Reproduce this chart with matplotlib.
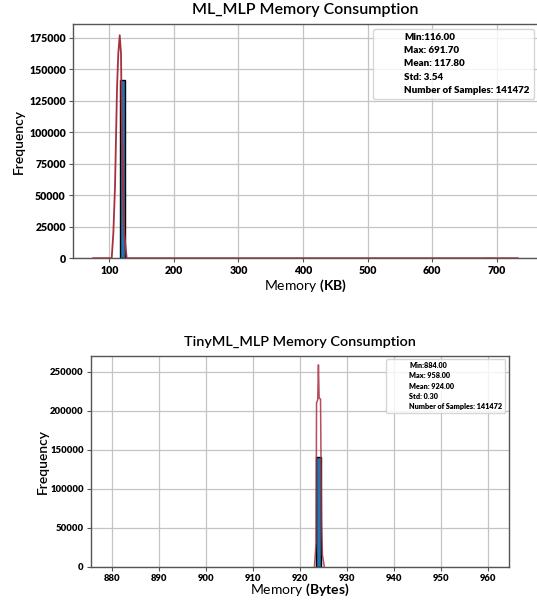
import matplotlib
matplotlib.use('Agg')
import matplotlib.pyplot as plt
from matplotlib.patches import Patch

# --- data ---
ml_bin_left = [116.0, 683.7]
ml_bin_width = 8.0
ml_counts = [141470, 2]
ml_kde_x = [75.0, 103.7, 106.2, 108.8, 110.4, 111.9, 113.9, 116.1, 118.1, 119.2, 121.2, 123.2, 126.9, 732.5]
ml_kde_y = [0, 0, 19600, 56600, 96300, 134700, 162500, 177000, 162500, 112000, 56600, 19600, 0, 0]
ml_stats = ['Min:116.00', 'Max: 691.70', 'Mean: 117.80', 'Std: 3.54', 'Number of Samples: 141472']

tiny_bin_left = [923.4]
tiny_bin_width = 1.0
tiny_counts = [141000]
tiny_kde_x = [923.0, 923.35, 923.45, 923.7, 923.85, 924.0, 924.3, 924.5, 924.7, 925.1]
tiny_kde_y = [0, 30000, 210000, 214000, 258700, 216000, 215000, 60000, 15000, 0]
tiny_stats = ['Min:884.00', 'Max: 958.00', 'Mean: 924.00', 'Std: 0.30', 'Number of Samples: 141472']

plt.rcParams['font.family'] = ['Lato', 'DejaVu Sans']
plt.rcParams['mathtext.fontset'] = 'custom'
plt.rcParams['mathtext.rm'] = 'Lato'
plt.rcParams['mathtext.bf'] = 'Lato:bold'

BAR = '#1f77b4'
RED = '#a8303f'
GRID = '#c4c4c4'
SPINE = '#555555'


def style_axes(ax, size):
    ax.grid(True, color=GRID, linewidth=0.9)
    ax.set_axisbelow(True)
    for s in ax.spines.values():
        s.set_color(SPINE)
        s.set_linewidth(1.0)
    ax.tick_params(labelsize=size, length=3, pad=2, color=SPINE)
    for lab in ax.get_xticklabels() + ax.get_yticklabels():
        lab.set_fontweight('heavy')


def stats_box(ax, lines, size):
    handles = [Patch(facecolor='none', edgecolor='none') for _ in lines]
    leg = ax.legend(handles, lines, loc='upper right',
                    prop={'weight': 'heavy', 'size': size}, framealpha=0.8,
                    labelspacing=0.45)
    return leg


fig = plt.figure(figsize=(5.37, 6.0), dpi=100)

# top panel
ax1 = fig.add_axes([0.1354, 0.5697, 0.8674, 0.3903])
ax1.bar(ml_bin_left, ml_counts, width=ml_bin_width, align='edge',
        color=BAR, edgecolor='black', linewidth=1.0, zorder=2)
ax1.plot(ml_kde_x, ml_kde_y, color=RED, linewidth=1.3, zorder=3)
ax1.set_xlim(43.3, 764.7)
ax1.set_ylim(0, 185900)
ax1.set_xticks(range(100, 701, 100))
ax1.set_yticks(range(0, 175001, 25000))
ax1.set_title('ML_MLP Memory Consumption', fontsize=11.5, fontweight='semibold', pad=7)
ax1.set_xlabel(r'Memory $\bf{(KB)}$', fontsize=10, labelpad=1)
ax1.set_ylabel('Frequency', fontsize=10, fontweight='semibold', labelpad=3)
style_axes(ax1, 7.6)
stats_box(ax1, ml_stats, 7)

# bottom panel
ax2 = fig.add_axes([0.1689, 0.0555, 0.7790, 0.3517])
ax2.bar(tiny_bin_left, tiny_counts, width=tiny_bin_width, align='edge',
        color=BAR, edgecolor='black', linewidth=1.0, zorder=2)
ax2.plot(tiny_kde_x, tiny_kde_y, color=RED, linewidth=1.1, alpha=0.85, zorder=3)
ax2.set_xlim(875.4, 964.4)
ax2.set_ylim(0, 270500)
ax2.set_xticks(range(880, 961, 10))
ax2.set_yticks(range(0, 250001, 50000))
ax2.set_title('TinyML_MLP Memory Consumption', fontsize=10.4, fontweight='semibold', pad=7)
ax2.set_xlabel(r'Memory $\bf{(Bytes)}$', fontsize=10, labelpad=-1)
ax2.set_ylabel('Frequency', fontsize=10, fontweight='semibold', labelpad=1)
style_axes(ax2, 6.8)
stats_box(ax2, tiny_stats, 5.2)

fig.savefig('out.png', dpi=100)
